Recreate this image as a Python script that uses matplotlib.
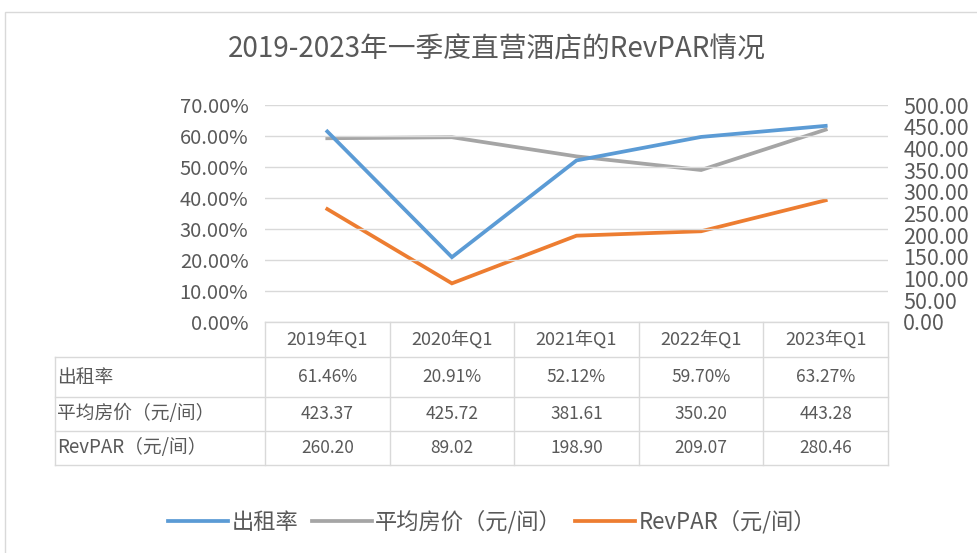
import matplotlib.pyplot as plt
from matplotlib.patches import Rectangle
from matplotlib.lines import Line2D

plt.rcParams['font.family'] = ['Noto Sans CJK SC', 'DejaVu Sans']

W, H = 977, 553

quarters = ['2019年Q1', '2020年Q1', '2021年Q1', '2022年Q1', '2023年Q1']
occupancy = [61.46, 20.91, 52.12, 59.70, 63.27]      # %
avg_price = [423.37, 425.72, 381.61, 350.20, 443.28]  # 元/间
revpar = [260.20, 89.02, 198.90, 209.07, 280.46]      # 元/间
row_names = ['出租率', '平均房价（元/间）', 'RevPAR（元/间）']
title = '2019-2023年一季度直营酒店的RevPAR情况'

c_blue, c_gray, c_orange = '#5B9BD5', '#A5A5A5', '#ED7D31'
txt = '#595959'
grid = '#D9D9D9'

def fx(x):
    return x / W

def fy(y):
    return 1 - y / H

fig = plt.figure(figsize=(W / 100, H / 100), dpi=100)

# chart frame
fig.patches.append(Rectangle((fx(5), -0.1), 1.2, fy(12) + 0.1, transform=fig.transFigure,
                             fill=False, edgecolor=grid, lw=1))

ax_l, ax_r, ax_t, ax_b = 265, 888, 105, 322
ax = fig.add_axes([fx(ax_l), fy(ax_b), fx(ax_r - ax_l), (ax_b - ax_t) / H])
ax2 = ax.twinx()

x = range(len(quarters))
ax.plot(x, [v / 100 for v in occupancy], color=c_blue, lw=2.7, solid_joinstyle='miter', label='出租率')
ax2.plot(x, avg_price, color=c_gray, lw=2.7, solid_joinstyle='miter', label='平均房价（元/间）')
ax2.plot(x, revpar, color=c_orange, lw=2.7, solid_joinstyle='miter', label='RevPAR（元/间）')

ax.set_xlim(-0.5, len(quarters) - 0.5)
ax.set_ylim(0, 0.7)
ax2.set_ylim(0, 500)
lt = [i / 10 for i in range(8)]
ax.set_yticks(lt)
ax.set_yticklabels([f'{v * 100:.2f}%' for v in lt], color=txt, fontsize=14.5)
rt = list(range(0, 501, 50))
ax2.set_yticks(rt)
ax2.set_yticklabels([f'{v:.2f}' for v in rt], color=txt, fontsize=15.5)
ax.set_xticks([])
ax.grid(axis='y', color=grid, lw=1)
ax.set_axisbelow(True)
for a in (ax, ax2):
    for s in a.spines.values():
        s.set_visible(False)
    a.tick_params(length=0)
ax.tick_params(axis='y', pad=12)
ax2.tick_params(axis='y', pad=11)
ax.set_zorder(ax2.get_zorder() + 1)
ax.patch.set_visible(False)

# data table
col_w = (ax_r - ax_l) / len(quarters)
lab_l = 55
rows_y = [322, 357, 397, 431, 465]
lines = []
lines.append(((ax_l, ax_r), (rows_y[0], rows_y[0])))
for i in range(len(quarters) + 1):
    xx = ax_l + i * col_w
    lines.append(((xx, xx), (rows_y[0], rows_y[-1])))
for y in rows_y[1:]:
    lines.append(((lab_l, ax_r), (y, y)))
lines.append(((lab_l, lab_l), (rows_y[1], rows_y[-1])))
for xs, ys in lines:
    fig.add_artist(Line2D([fx(v) for v in xs], [fy(v) for v in ys], color=grid, lw=1))

for i, q in enumerate(quarters):
    cx = ax_l + (i + 0.5) * col_w
    fig.text(fx(cx), fy((rows_y[0] + rows_y[1]) / 2), q, ha='center', va='center', color=txt, fontsize=13)
    vals = [f'{occupancy[i]:.2f}%', f'{avg_price[i]:.2f}', f'{revpar[i]:.2f}']
    for r, v in enumerate(vals):
        fig.text(fx(cx), fy((rows_y[r + 1] + rows_y[r + 2]) / 2), v, ha='center', va='center',
                 color=txt, fontsize=12.5)
for r, name in enumerate(row_names):
    fig.text(fx(lab_l + 2), fy((rows_y[r + 1] + rows_y[r + 2]) / 2), name, ha='left', va='center',
             color=txt, fontsize=13.5)

fig.text(fx(497), fy(50), title, ha='center', va='center', color=txt, fontsize=20)

h1, l1 = ax.get_legend_handles_labels()
h2, l2 = ax2.get_legend_handles_labels()
fig.legend(h1 + h2, l1 + l2, loc='center', bbox_to_anchor=(fx(492), fy(522)), ncol=3, frameon=False,
           fontsize=16, labelcolor=txt, handlelength=2.7, handletextpad=0.15, columnspacing=0.6)

fig.savefig('out.png', dpi=100)
